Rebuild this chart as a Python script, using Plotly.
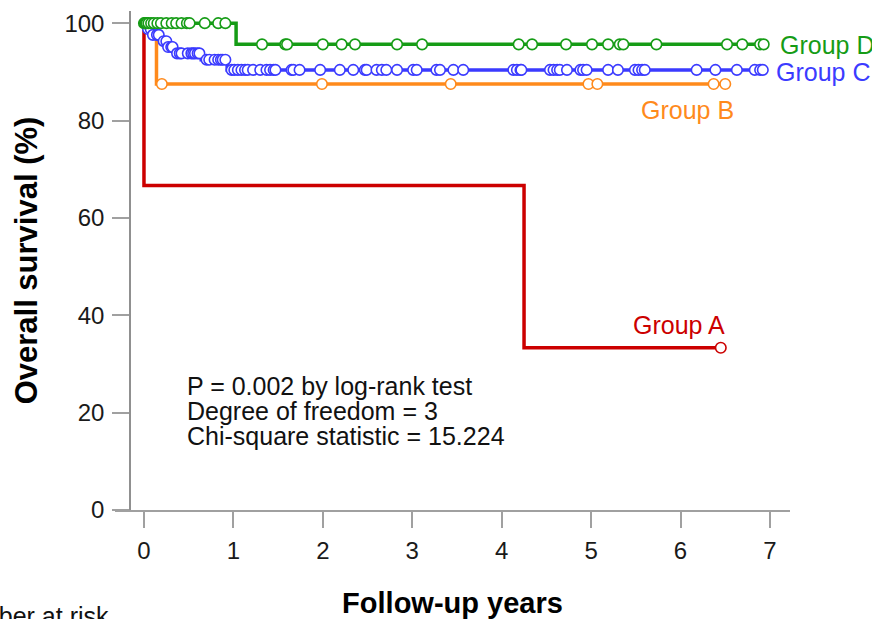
import plotly.graph_objects as go

# ---------------- data ----------------
groups = ["Group A", "Group B", "Group C", "Group D"]

# Group A
a_event_t = [0.0, 4.25]
a_event_s = [66.67, 33.33]
a_cens_t = [6.45]

# Group B
b_event_t = [0.14]
b_event_s = [87.5]
b_cens_t = [0.20, 1.99, 3.43, 4.97, 5.07, 6.37, 6.50]

# Group C
c_event_t = [0.01, 0.10, 0.19, 0.26, 0.34, 0.64, 0.93]
c_event_s = [98.8, 97.6, 96.3, 95.1, 93.8, 92.5, 90.4]
c_cens_t = [0.045, 0.075, 0.10, 0.145, 0.165, 0.22, 0.25, 0.27, 0.305, 0.32,
            0.37, 0.40, 0.42, 0.49, 0.53, 0.55, 0.57, 0.60, 0.62, 0.70, 0.73,
            0.79, 0.83, 0.86, 0.88, 0.91, 0.98, 1.01, 1.05, 1.09, 1.13, 1.16,
            1.22, 1.30, 1.37, 1.41, 1.45, 1.47, 1.65, 1.67, 1.74, 1.97, 2.19,
            2.34, 2.47, 2.49, 2.60, 2.66, 2.71, 2.83, 3.01, 3.05, 3.27, 3.31,
            3.46, 3.57, 4.13, 4.17, 4.21, 4.22, 4.54, 4.58, 4.62, 4.65, 4.73,
            4.88, 4.91, 4.95, 5.19, 5.30, 5.49, 5.53, 5.57, 5.60, 6.18, 6.39,
            6.63, 6.83, 6.89, 6.92]

# Group D
d_event_t = [1.03]
d_event_s = [95.65]
d_cens_t = [0.0, 0.01, 0.02, 0.03, 0.05, 0.08, 0.11, 0.15, 0.19, 0.25, 0.31,
            0.36, 0.42, 0.48, 0.51, 0.68, 0.83, 0.91, 1.32, 1.58, 1.60, 2.00,
            2.21, 2.36, 2.83, 3.11, 4.19, 4.34, 4.72, 5.01, 5.19, 5.32, 5.36,
            5.73, 6.52, 6.69, 6.89, 6.93]

x_ticks = [0, 1, 2, 3, 4, 5, 6, 7]
y_ticks = [0, 20, 40, 60, 80, 100]

stats_lines = ["P = 0.002 by log-rank test",
               "Degree of freedom = 3",
               "Chi-square statistic = 15.224"]

colors = {"Group A": "#CC0000", "Group B": "#FF8A1C",
          "Group C": "#3B3BFF", "Group D": "#169C16"}

data = {
    "Group A": (a_event_t, a_event_s, a_cens_t),
    "Group B": (b_event_t, b_event_s, b_cens_t),
    "Group C": (c_event_t, c_event_s, c_cens_t),
    "Group D": (d_event_t, d_event_s, d_cens_t),
}

# ---------------- layout geometry ----------------
W, H = 872, 619
ML, MR, MT, MB = 115, 82, 11, 109
PW, PH = W - ML - MR, H - MT - MB
X_RANGE = [-0.324, 7.224]
Y_RANGE = [0, 102.5]


def px_x(p):
    return (p - ML) / PW


def px_y(p):
    return (H - MB - p) / PH


def surv_at(t, ev_t, ev_s):
    s = 100.0
    for et, es in zip(ev_t, ev_s):
        if et <= t:
            s = es
    return s


FONT = "Liberation Sans, Arial, Helvetica, sans-serif"

fig = go.Figure()

for g in groups:
    ev_t, ev_s, cens = data[g]
    end_t = max(cens + ev_t)
    xs = [0.0] + list(ev_t) + [end_t]
    ys = [100.0] + list(ev_s) + [ev_s[-1]]
    fig.add_trace(go.Scatter(
        x=xs, y=ys, mode="lines", line=dict(color=colors[g], width=3.5, shape="hv"),
        name=g, showlegend=False, hoverinfo="skip"))
    fig.add_trace(go.Scatter(
        x=cens, y=[surv_at(t, ev_t, ev_s) for t in cens], mode="markers",
        marker=dict(symbol="circle", size=10.5, color="white",
                    line=dict(color=colors[g], width=1.6)),
        name=g + " censored", showlegend=False))

annotations = []
# group labels
annotations.append(dict(text="Group D", x=px_x(778), y=px_y(45), xanchor="left", yanchor="middle",
                        font=dict(color=colors["Group D"], size=25)))
annotations.append(dict(text="Group C", x=px_x(774), y=px_y(72), xanchor="left", yanchor="middle",
                        font=dict(color=colors["Group C"], size=25)))
annotations.append(dict(text="Group B", x=px_x(687), y=px_y(110), xanchor="center", yanchor="middle",
                        font=dict(color=colors["Group B"], size=25)))
annotations.append(dict(text="Group A", x=px_x(679), y=px_y(325), xanchor="center", yanchor="middle",
                        font=dict(color=colors["Group A"], size=25)))
# statistics
for i, line in enumerate(stats_lines):
    annotations.append(dict(text=line, x=px_x(185), y=px_y(386 + 25 * i), xanchor="left",
                            yanchor="middle", font=dict(color="#111111", size=25)))
# cut-off label at bottom left
annotations.append(dict(text="Number at risk", x=px_x(111), y=px_y(616), xanchor="right",
                        yanchor="middle", font=dict(color="#111111", size=25)))
for a in annotations:
    a.update(xref="paper", yref="paper", showarrow=False)

fig.update_layout(
    width=W, height=H,
    margin=dict(l=ML, r=MR, t=MT, b=MB, pad=0),
    paper_bgcolor="white", plot_bgcolor="white",
    font=dict(family=FONT, color="#1a1a1a"),
    showlegend=False,
    annotations=annotations,
    xaxis=dict(
        range=X_RANGE, tickvals=x_ticks, ticks="outside", ticklen=16, tickwidth=1.5,
        tickcolor="#a0a0a0", showline=True, linecolor="#a0a0a0", linewidth=1.5,
        showgrid=False, zeroline=False, tickfont=dict(size=24, color="#1a1a1a"),
        ticklabelstandoff=2, automargin=False,
        title=dict(text="Follow-up years", standoff=30,
                   font=dict(size=29, weight="bold", color="#000000")),
    ),
    yaxis=dict(
        range=Y_RANGE, tickvals=y_ticks, ticks="outside", ticklen=17, tickwidth=1.5,
        tickcolor="#a0a0a0", showline=True, linecolor="#909090", linewidth=1.5,
        showgrid=False, zeroline=False, anchor="free", position=px_x(130),
        tickfont=dict(size=24, color="#1a1a1a"), ticklabelstandoff=3, automargin=False,
        title=dict(text="Overall survival (%)", standoff=17,
                   font=dict(size=31, weight="bold", color="#000000")),
    ),
)

fig.write_html(
    "out.html",
    config={"displayModeBar": False},
    post_script=("document.documentElement.style.margin='0';"
                 "document.documentElement.style.overflow='hidden';"
                 "document.body.style.margin='0';"
                 "document.body.style.padding='0';"
                 "document.body.style.overflow='hidden';"),
)
